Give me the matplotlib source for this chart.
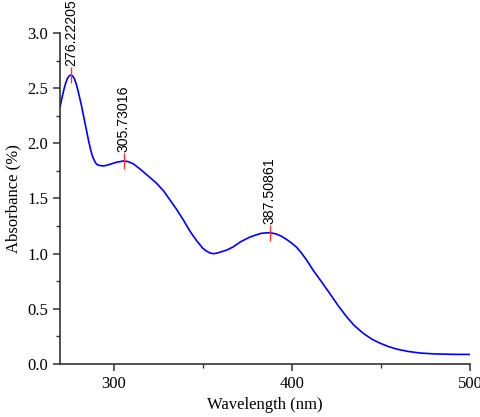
import numpy as np
import matplotlib.pyplot as plt

# absorbance spectrum
wavelength = [270, 271, 272, 273, 274, 275, 276.2, 277, 278, 279, 280, 281, 282, 283, 284,
              285, 286, 287, 288, 289, 290, 291, 292, 294, 296, 298, 300, 302, 305.7, 308,
              311, 314.6, 319, 324, 328, 331.5, 335, 339, 343, 346.5, 348, 350, 352, 354,
              356, 358, 360, 363, 367, 371.5, 376.4, 380, 383, 387.5, 391, 394, 397, 400,
              402.6, 405, 408, 412, 416.5, 421.3, 426, 430.7, 435, 440, 445, 449.4, 454,
              458.8, 465, 471.9, 480, 490, 500]
absorbance = [2.33, 2.41, 2.48, 2.54, 2.585, 2.61, 2.62, 2.61, 2.585, 2.54, 2.48, 2.41, 2.34,
              2.26, 2.18, 2.10, 2.02, 1.95, 1.89, 1.85, 1.82, 1.805, 1.80, 1.795, 1.80, 1.81,
              1.82, 1.83, 1.84, 1.835, 1.815, 1.77, 1.71, 1.64, 1.57, 1.49, 1.41, 1.31, 1.20,
              1.12, 1.09, 1.05, 1.025, 1.007, 1.0, 1.005, 1.015, 1.03, 1.06, 1.11, 1.15,
              1.17, 1.185, 1.19, 1.18, 1.16, 1.13, 1.095, 1.06, 1.015, 0.95, 0.85, 0.75,
              0.64, 0.53, 0.43, 0.35, 0.28, 0.225, 0.19, 0.16, 0.136, 0.115, 0.10, 0.092,
              0.088, 0.087]

peak_x = [276.22205, 305.73016, 387.50861]
peak_y = [2.62, 1.84, 1.19]
peak_labels = ['276.22205', '305.73016', '387.50861']

plt.rcParams['font.family'] = 'Liberation Serif'

fig = plt.figure(figsize=(4.81, 4.17), dpi=100)
ax = fig.add_axes([0.125, 0.127, 0.852, 0.794])

ax.plot(wavelength, absorbance, color='blue', linewidth=1.2)
ax.plot(peak_x, peak_y, linestyle='none', marker='|', markersize=11,
        markeredgewidth=1.0, color='#ff3030')
for px, py, lab in zip(peak_x, peak_y, peak_labels):
    ax.annotate(lab, (px, py), xytext=(0, 6.5), textcoords='offset points',
                rotation=90, ha='center', va='bottom', fontsize=10.2,
                family='Liberation Sans', annotation_clip=False)

ax.set_xlim(270, 500)
ax.set_ylim(0, 3.0)
ax.set_xticks([300, 400, 500])
ax.set_xticks([350, 450], minor=True)
ax.set_yticks(np.arange(0, 3.01, 0.5))
ax.set_yticks(np.arange(0.25, 3.0, 0.5), minor=True)
ax.set_yticklabels(['0.0', '0.5', '1.0', '1.5', '2.0', '2.5', '3.0'])

ax.spines['top'].set_visible(False)
ax.spines['right'].set_visible(False)
for s in ['left', 'bottom']:
    ax.spines[s].set_linewidth(1.2)
    ax.spines[s].set_color('#333333')
ax.tick_params(which='major', direction='out', length=5, width=1.1, labelsize=12, colors='#333333')
ax.tick_params(which='minor', direction='out', length=3, width=1.0, colors='#333333')
ax.tick_params(labelcolor='black')

ax.set_xlabel('Wavelength (nm)', fontsize=12)
ax.set_ylabel('Absorbance (%)', fontsize=12)

plt.savefig('out.png', dpi=100)
